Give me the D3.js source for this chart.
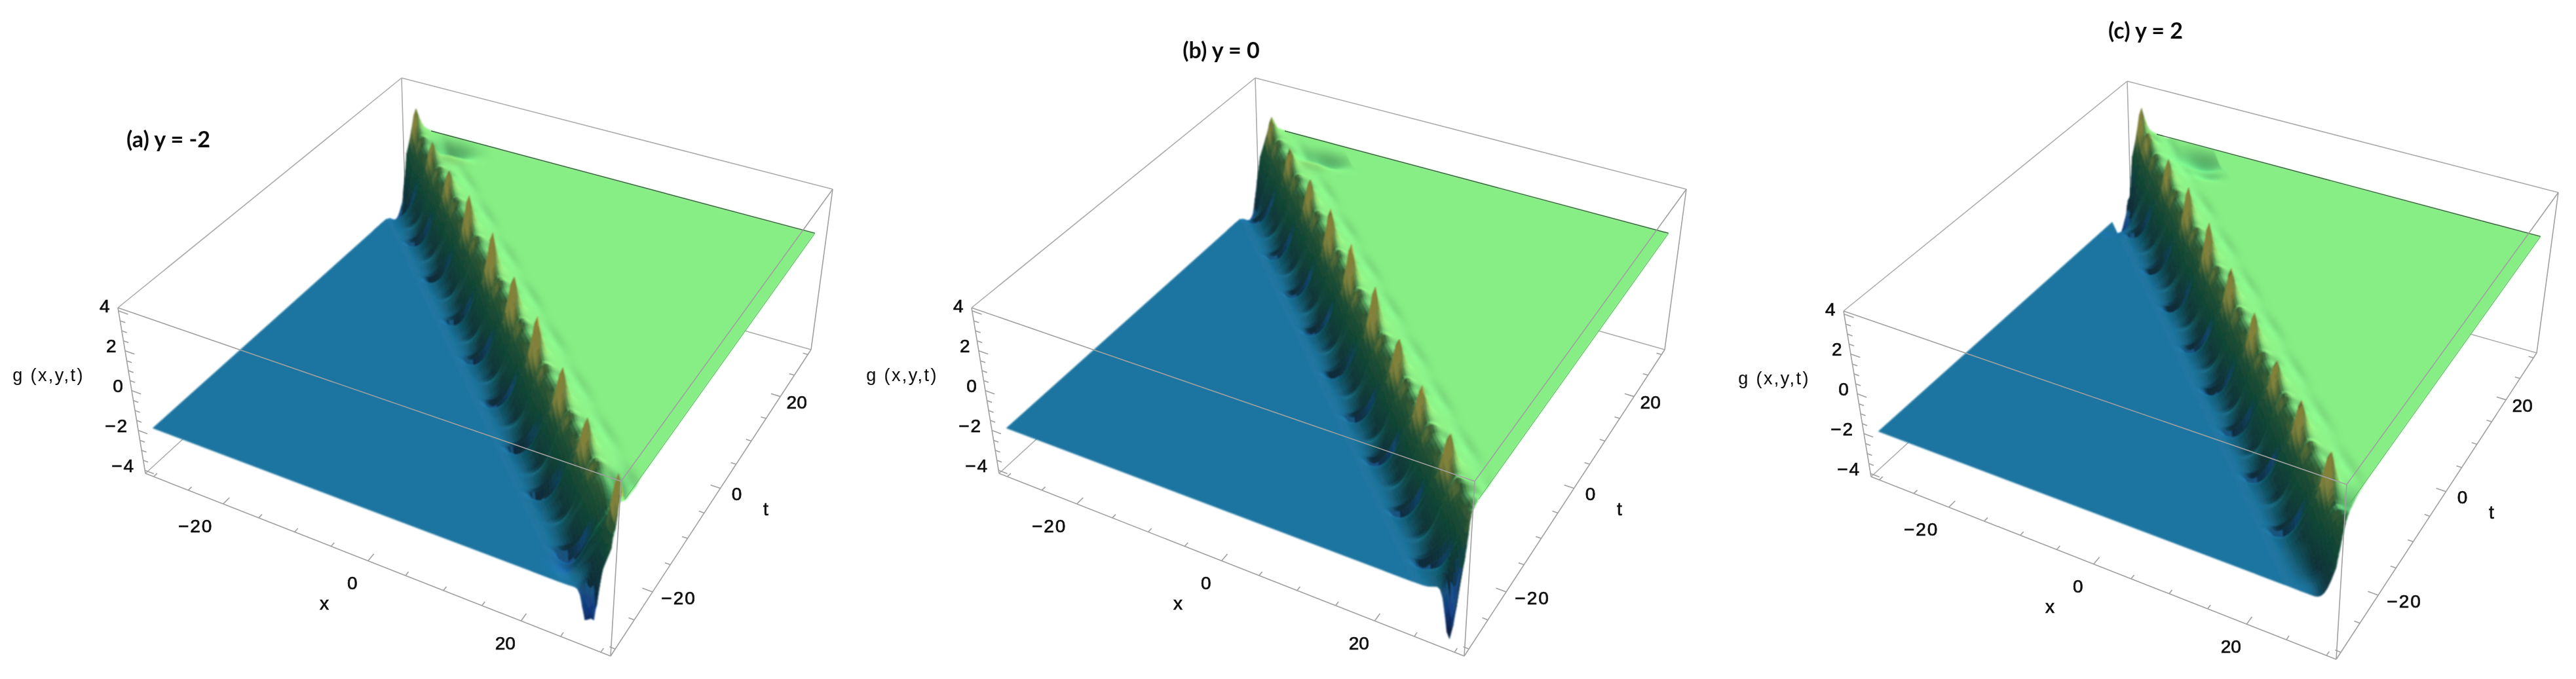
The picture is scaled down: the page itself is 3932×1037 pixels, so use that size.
<!DOCTYPE html>
<html><head><meta charset="utf-8">
<script src="https://cdn.jsdelivr.net/npm/d3@7"></script>
<style>html,body{margin:0;background:#fff}svg{display:block}</style></head>
<body><svg id="c" width="3932" height="1037"></svg>
<script>
// ---- values ----
const titles = ["(a) y = -2", "(b) y = 0", "(c) y = 2"];
const xMajor = [-20, 0, 20];
const tMajor = [-20, 0, 20];
const zMajor = [-4, -2, 0, 2, 4];
const xMinor = [-30, -25, -15, -10, -5, 5, 10, 15, 25, 30];
const tMinor = [-30, -25, -15, -10, -5, 5, 10, 15, 25, 30];
const zMinor = [-3.5, -3, -2.5, -1.5, -1, -0.5, 0.5, 1, 1.5, 2.5, 3, 3.5];
// wall cross-section across the ridge: height against x+t
const wallS = [-7, -6, -5, -4, -3, -2, -1, 0, 1, 2, 3, 4, 5, 6, 7];
const wallZ = [-2, -2, -2, -1.96, -1.78, -1.4, -0.72, 0.22, 1.25, 1.95, 2.05, 2.02, 2, 2, 2];
const bluePlane = -2, greenPlane = 2;
// spike crests along the ridge (t and peak height) for each panel
const spikeTa = [30, 24, 18.1, 11.5, 4.3, -1.9, -8.3, -14.7, -20.7, -27.7];
const spikeZa = [2.8, 2.55, 2.85, 3.2, 3.6, 3.5, 3.5, 3.3, 3.1, 3.5];
const spikeTb = [29.2, 22.4, 15.6, 8.9, 2.7, -4, -10.4, -16.3, -22.9, -29];
const spikeZb = [2.6, 2.8, 3.1, 3.5, 3.5, 3.4, 3.3, 3, 3.3, 2.4];
const spikeTc = [30, 27.2, 20.3, 13.5, 7, 0.4, -6, -11.9, -18.1, -24.9];
const spikeZc = [3, 2.4, 2.9, 3.2, 3.3, 3.3, 3, 2.9, 3.2, 3.4];
// local features of the surface: [x, t, height change, width in x, width in t]
const bumpsA = [[-21, 27, -0.55, 3, 1.6], [-19.5, 24.6, 0.22, 2, 1.0], [-29.5, 27.5, -0.9, 1.2, 2],
  [24, -27, -0.35, 2, 1.5], [27.5, -30, -1.6, 0.7, 1.0], [28.4, -30, -1.6, 0.4, 0.9], [28, -27, -1.0, 1.4, 2.5]];
const bumpsB = [[-17.4, 26, -0.5, 3.2, 1.5], [-18, 23.6, 0.22, 2, 1.0], [-29.5, 27, -0.8, 1.4, 1.8],
  [28.8, -30, -3.2, 0.9, 1.5], [27, -27, -0.6, 1.4, 1.5]];
const bumpsC = [[-17.5, 27, -0.6, 3.5, 1.8], [-15, 24, -0.3, 2.2, 1.2], [-29.5, 26, -1.2, 1.6, 3],
  [29, -29, -0.95, 1.6, 3], [27, -28, -0.5, 1.4, 1.5]];
const colorZ = [-4.5, -3.5, -3, -2.5, -2, -1, 0, 1, 2, 2.5, 3.2, 4];
const colorV = ["#04122e", "#0a2a5e", "#1448a0", "#1a5cb0", "#1b75a0", "#169498", "#26b890", "#50d488", "#87ee85", "#aee272", "#d8dc68", "#f0f070"];
const ochre = "#c5b850";
const streakBlue = "#1c4fa0";

// ---- scales ----
const HX = 31.2, HZ = 4.16;
const sx = d3.scaleLinear().domain([-HX, HX]).range([0, 1]);
const st = d3.scaleLinear().domain([-HX, HX]).range([0, 1]);
const sz = d3.scaleLinear().domain([-HZ, HZ]).range([0, 1]);
const persp = k => f => f / (f + (1 - f) * k);
const wx = persp(1.09), wt = persp(0.826);
const col = d3.scaleLinear().domain(colorZ).range(colorV).interpolate(d3.interpolateRgb).clamp(true);
const wallF = d3.interpolateBasis(wallZ);
const wallScale = d3.scaleLinear().domain(d3.extent(wallS)).range([0, 1]).clamp(true);
const wall = s => wallF(wallScale(s));
const unit = d3.scaleLinear().domain([0, 1]).range([0, 1]).clamp(true);

// box corners on the page, panel a, then panel offsets
const C = {c000:[222,723],c100:[932,1002],c010:[620,358],c110:[1238,534],
           c001:[180,470],c101:[948,735],c011:[613,119],c111:[1271,289]};
const panels = [
 {dx:0, dy:0, title:[257,211], sT:spikeTa, sZ:spikeZa, b:bumpsA},
 {dx:1303, dy:0, title:[1864,75], sT:spikeTb, sZ:spikeZb, b:bumpsB},
 {dx:2634, dy:5, title:[3275,45], sT:spikeTc, sZ:spikeZc, b:bumpsC}];

const svg = d3.select("#c");
const defs = svg.append("defs");
const addBlur = (id, d) => defs.append("filter").attr("id", id).attr("filterUnits", "userSpaceOnUse")
  .attr("x", 0).attr("y", 0).attr("width", 3932).attr("height", 1037)
  .append("feGaussianBlur").attr("stdDeviation", d);
addBlur("soft", 1.1); addBlur("softT", 0.7); addBlur("softL", 0.5);

panels.forEach(p => {
  const proj = (x, t, z) => {
    const u = wx(sx(x)), v = wt(st(t)), w = sz(z);
    const pt = i => {
      const b = (C.c000[i]*(1-u)+C.c100[i]*u)*(1-v) + (C.c010[i]*(1-u)+C.c110[i]*u)*v;
      const a = (C.c001[i]*(1-u)+C.c101[i]*u)*(1-v) + (C.c011[i]*(1-u)+C.c111[i]*u)*v;
      return b*(1-w)+a*w;
    };
    return [pt(0)+p.dx, pt(1)+p.dy];
  };
  const sc = 1.5;
  const ampS = p.sZ.map(z => (z - wall(sc) - 0.25) * 1.3);
  const mids = d3.pairs(p.sT).map(([a, b]) => (a + b) / 2);
  const quarter = d3.pairs(p.sT).flatMap(([a, b]) => [a + (b - a) * 0.25, a + (b - a) * 0.75]);
  const height = (x, t) => {
    const s = x + t;
    let z = wall(s);
    if (Math.abs(s) < 13) {
      p.sT.forEach((ti, i) => {
        const dt = t - ti;
        const g = Math.exp(-Math.abs(dt) / 0.7);
        const d = s - sc;
        const up = d < 0 ? Math.exp(-Math.pow(-d / 0.85, 1.1)) : Math.exp(-Math.pow(d / 0.7, 1.4));
        const ped = Math.exp(-Math.pow(d / (d < 0 ? 2.6 : 1), 2));
        z += g * (ampS[i] * up + 0.25 * ped);
        const gd = Math.exp(-Math.pow((dt - 1.7) / 0.36, 2));
        z += gd * (-0.55 * Math.exp(-Math.pow((s + 3.2) / 0.9, 2)) - 0.6 * Math.exp(-Math.pow((s + 1.2) / 2.0, 2)));
        const g2 = Math.exp(-Math.pow((dt + 2.1) / 0.42, 2));
        z += g2 * 0.5 * Math.exp(-Math.pow((s - 1) / 1.2, 2));
      });
      mids.forEach(ti => {
        const g = Math.exp(-Math.pow((t - ti) / 0.7, 2));
        z += g * (0.22 * Math.exp(-Math.pow((s + 0.5) / 1.8, 2)) - 0.1 * Math.exp(-Math.pow((s - 3) / 0.9, 2)));
        z += -0.09 * Math.exp(-Math.pow((t - ti) / 2.2, 2) - Math.pow((s - 5.6) / 1.0, 2));
      });
      quarter.forEach(ti => {
        const g = Math.exp(-Math.pow((t - ti) / 0.4, 2));
        z += g * (-0.25 * Math.exp(-Math.pow((s + 1) / 1.8, 2)));
      });
    }
    p.b.forEach(([bx, bt, a, wX, wT]) => {
      z += a * Math.exp(-Math.pow((x - bx) / wX, 2) - Math.pow((t - bt) / wT, 2));
    });
    return z;
  };

  const line = d3.line();
  const edge = (a, b) => line([proj(...a), proj(...b)]);
  const H = HX, Z = HZ;
  const backEdges = [
    [[-H,-H,-Z],[-H,H,-Z]], [[-H,H,-Z],[H,H,-Z]], [[-H,H,-Z],[-H,H,Z]],
    [[-H,-H,Z],[-H,H,Z]], [[-H,H,Z],[H,H,Z]]];
  const frontEdges = [
    [[-H,-H,Z],[H,-H,Z]], [[H,-H,Z],[H,H,Z]],
    [[-H,-H,-Z],[H,-H,-Z]], [[H,-H,-Z],[H,H,-Z]],
    [[-H,-H,-Z],[-H,-H,Z]], [[H,-H,-Z],[H,-H,Z]], [[H,H,-Z],[H,H,Z]]];
  const root = svg.append("g");
  root.append("g").attr("fill","none").attr("stroke","#ababab").attr("stroke-width",1.6).attr("filter","url(#softL)")
    .selectAll("path").data(backEdges).join("path").attr("d", d => edge(d[0], d[1]));

  const surf = root.append("g").attr("filter", "url(#soft)");
  const poly = pts => "M" + pts.map(q => proj(q[0], q[1], q[2]).map(v => v.toFixed(1)).join(",")).join("L") + "Z";
  surf.append("path").attr("fill", col(bluePlane)).attr("stroke", col(bluePlane)).attr("stroke-width", 0.8)
    .attr("d", poly([[-30,-30,bluePlane],[-30,24,bluePlane],[24,-30,bluePlane]]));
  surf.append("path").attr("fill", col(greenPlane)).attr("stroke", col(greenPlane)).attr("stroke-width", 0.8)
    .attr("d", poly([[30,30,greenPlane],[-24,30,greenPlane],[30,-24,greenPlane]]));

  const tVals = d3.range(0, 241).map(i => 30 - i * 0.25);
  const sVals = d3.range(0, 63).map(i => -9.5 + i * 0.36);
  const clampX = d3.scaleLinear().domain([-30, 30]).range([-30, 30]).clamp(true);
  const grid = tVals.map(t => sVals.map(s => { const x = clampX(s - t); return [x, t, height(x, t)]; }));
  const cells = [];
  const oc = d3.rgb(ochre), bl = d3.rgb(streakBlue);
  for (let i = 0; i < tVals.length - 1; i++) {
    for (let j = 0; j < sVals.length - 1; j++) {
      const a = grid[i][j], b = grid[i][j+1], c = grid[i+1][j+1], d = grid[i+1][j];
      if (a[0] === b[0] && c[0] === d[0] && a[0] === d[0]) continue;
      const ds = sVals[1] - sVals[0], dt = tVals[0] - tVals[1];
      const hs = ((b[2] + c[2]) - (a[2] + d[2])) / (2 * ds);
      const htS = ((d[2] + c[2]) - (a[2] + b[2])) / (2 * (-dt));
      const k = 1.6, hx = hs * k, ht = (hs + htS) * k;
      const lam = (-hx * 0.15 - ht * 0.6 + 1) / Math.sqrt(1 + hx*hx + ht*ht);
      const zm = (a[2] + b[2] + c[2] + d[2]) / 4;
      let shade = Math.min(1.08, 0.36 + 0.64 * Math.max(0, lam));
      if (zm < -2.1) shade = Math.max(shade, 0.75);
      const r = d3.rgb(col(zm));
      let R = r.r * shade, G = r.g * shade, B = r.b * shade;
      const grad = Math.hypot(hs, hs + htS);
      const dim = ht < 0 ? 1 : 0.78;
      const m = (ht < 0 ? 1 : 0.75) * unit((grad - 1.1) / 1.1) * unit((zm - 0.9) / 1.0);
      R += (oc.r * dim - R) * m; G += (oc.g * dim - G) * m; B += (oc.b * dim - B) * m;
      const m2 = unit((ht / k - 2.0) / 1.5) * unit((-zm + 0.2) / 1.0);
      R += (bl.r - R) * m2; G += (bl.g - G) * m2; B += (bl.b - B) * m2;
      const f = d3.rgb(Math.min(255, R), Math.min(255, G), Math.min(255, B)).formatHex();
      cells.push({pts:[a,b,c,d], f});
    }
  }
  surf.selectAll("path.cell").data(cells).join("path").attr("class", "cell")
    .attr("d", d => poly(d.pts)).attr("fill", d => d.f).attr("stroke", d => d.f).attr("stroke-width", 0.7);

  // dark rims of the green sheet
  const rim = root.append("g").attr("fill", "none").attr("filter", "url(#softL)");
  rim.append("path").attr("stroke", "#3d5c42").attr("stroke-width", 1.4).attr("d", edge([-26,30,greenPlane],[30,30,greenPlane]));
  rim.append("path").attr("stroke", "#5aae62").attr("stroke-width", 1).attr("d", edge([30,-27,greenPlane],[30,30,greenPlane]));

  const front = root.append("g").attr("fill","none").attr("stroke","#a0a0a0").attr("stroke-width",1.6).attr("filter","url(#softL)");
  front.selectAll("path.e").data(frontEdges).join("path").attr("class","e").attr("d", d => edge(d[0], d[1]));
  const ticks = (vals, len, mk) => vals.forEach(v => front.append("path").attr("d", edge(...mk(v, len))));
  const xt = (v, l) => [[v,-H,-Z],[v,-H+l,-Z]];
  const tt = (v, l) => [[H,v,-Z],[H-l,v,-Z]];
  const zt = (v, l) => [[-H,-H,v],[-H+l,-H,v]];
  ticks(xMajor, 1.3, xt); ticks(xMinor, 0.7, xt);
  ticks(tMajor, 1.3, tt); ticks(tMinor, 0.7, tt);
  ticks(zMajor, 1.3, zt); ticks(zMinor, 0.7, zt);

  const txt = root.append("g").attr("font-family", "'Liberation Sans', Arial, sans-serif").attr("font-size", 28)
    .attr("fill", "#111").attr("text-anchor", "middle").attr("filter", "url(#softT)");
  const label = (x, y, s, extra) => {
    const e = txt.append("text").attr("x", x).attr("y", y).attr("dominant-baseline", "central")
      .attr("stroke", "#111").attr("stroke-width", 0.7).text(s);
    if (extra) extra(e);
    return e;
  };
  const fmt = v => v < 0 ? "\u2212" + Math.abs(v) : String(v);
  const neg = e => e.attr("letter-spacing", 2);
  xMajor.forEach(v => { const q = proj(v,-H,-Z); label(q[0] - (v < 0 ? 42 : 24), q[1] + 34, fmt(v), v < 0 ? neg : null); });
  tMajor.forEach(v => { const q = proj(H,v,-Z); label(q[0] + (v < 0 ? 40 : 25), q[1] + 9, fmt(v), v < 0 ? neg : null); });
  zMajor.forEach(v => { const q = proj(-H,-H,v); label(q[0] + (v < 0 ? -33 : -21), q[1] - 7, fmt(v), v < 0 ? neg : null); });
  label(495 + p.dx, 921 + p.dy, "x");
  label(1169 + p.dx, 777 + p.dy, "t");
  label(74 + p.dx, 573 + p.dy, "g (x,y,t)").attr("stroke-width", 0.1).attr("font-size", 27).attr("letter-spacing", 2.4);
  root.append("text").attr("x", p.title[0]).attr("y", p.title[1]).attr("text-anchor", "middle")
    .attr("dominant-baseline", "central").attr("font-family", "Lato, 'Open Sans', sans-serif").attr("font-weight", 700)
    .attr("font-size", 34).attr("fill", "#111").attr("filter", "url(#softT)").text(titles[panels.indexOf(p)]);
});
</script></body></html>
